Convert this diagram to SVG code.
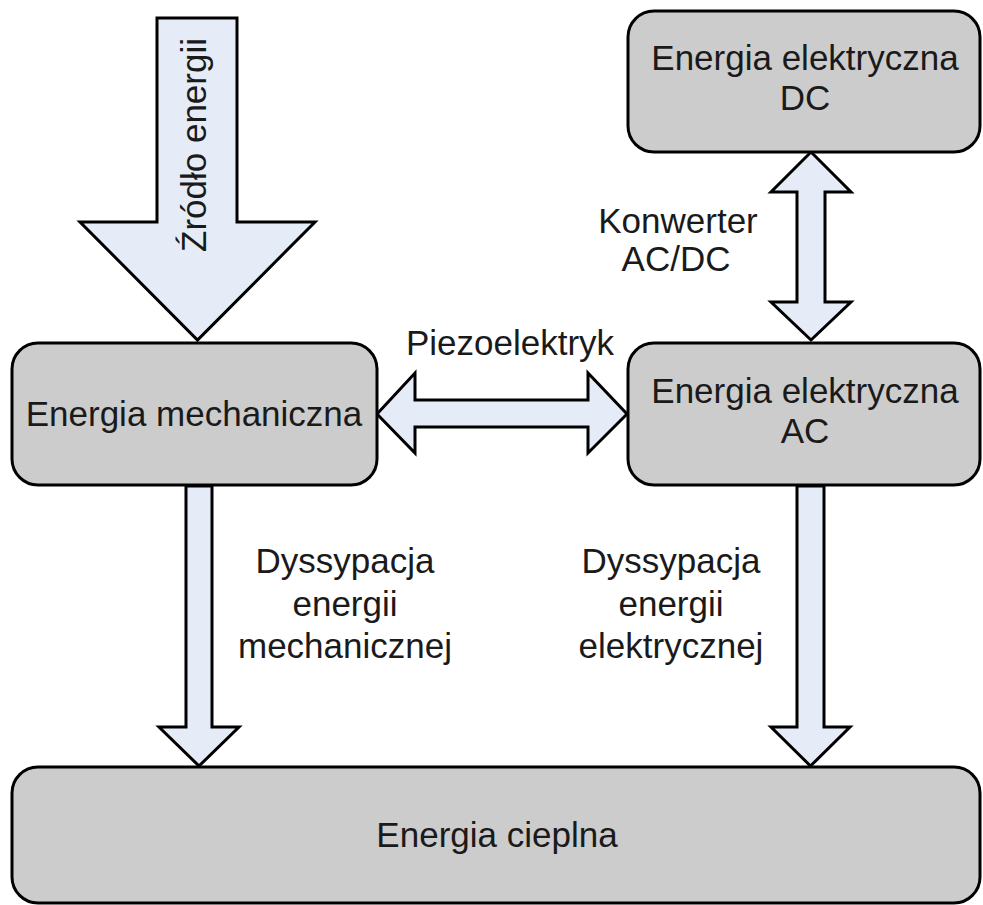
<svg xmlns="http://www.w3.org/2000/svg" width="983" height="905" viewBox="0 0 983 905">
<style>
.box{fill:#cccccc;stroke:#000;stroke-width:3}
.arr{fill:#e6ecf7;stroke:#000;stroke-width:3;stroke-linejoin:miter}
text{font-family:"Liberation Sans",Arial,sans-serif;font-size:35px;fill:#1a1a1a;text-anchor:middle}
</style>
<rect width="983" height="905" fill="#fff"/>
<g id="connectors">
<g id="zrodlo">
<polygon class="arr" points="157,18 237,18 237,222 315,222 197.5,340 80,222 157,222"/>
<text transform="translate(206,145) rotate(-90)">Źródło energii</text>
</g>
<g id="piezo">
<polygon class="arr" points="377,414 415,373 415,400 588,400 588,373 627,414 588,453 588,427 415,427 415,453"/>
<text x="510" y="355">Piezoelektryk</text>
</g>
<g id="konwerter">
<polygon class="arr" points="811,152 851,192 825,192 825,302 851,302 811,340 771,302 797,302 797,192 771,192"/>
<text x="678" y="233">Konwerter</text>
<text x="676" y="271">AC/DC</text>
</g>
<g id="dys-mech">
<polygon class="arr" points="186,486 212,486 212,727 239,727 199,766 159,727 186,727"/>
<text x="345" y="573">Dyssypacja</text>
<text x="345" y="616">energii</text>
<text x="345" y="658">mechanicznej</text>
</g>
<g id="dys-elek">
<polygon class="arr" points="797,486 824,486 824,727 850,727 810.5,766 771,727 797,727"/>
<text x="671" y="573">Dyssypacja</text>
<text x="671" y="616">energii</text>
<text x="671" y="658">elektrycznej</text>
</g>
</g>
<g id="mechaniczna">
<rect class="box" x="12" y="343" width="365" height="142" rx="26"/>
<text x="194" y="426">Energia mechaniczna</text>
</g>
<g id="ac">
<rect class="box" x="628" y="343" width="352" height="142" rx="26"/>
<text x="805" y="403">Energia elektryczna</text>
<text x="805" y="443">AC</text>
</g>
<g id="dc">
<rect class="box" x="628" y="11" width="352" height="141" rx="26"/>
<text x="805" y="70">Energia elektryczna</text>
<text x="805" y="110">DC</text>
</g>
<g id="cieplna">
<rect class="box" x="12" y="767" width="968" height="136" rx="26"/>
<text x="497" y="847">Energia cieplna</text>
</g>
</svg>
